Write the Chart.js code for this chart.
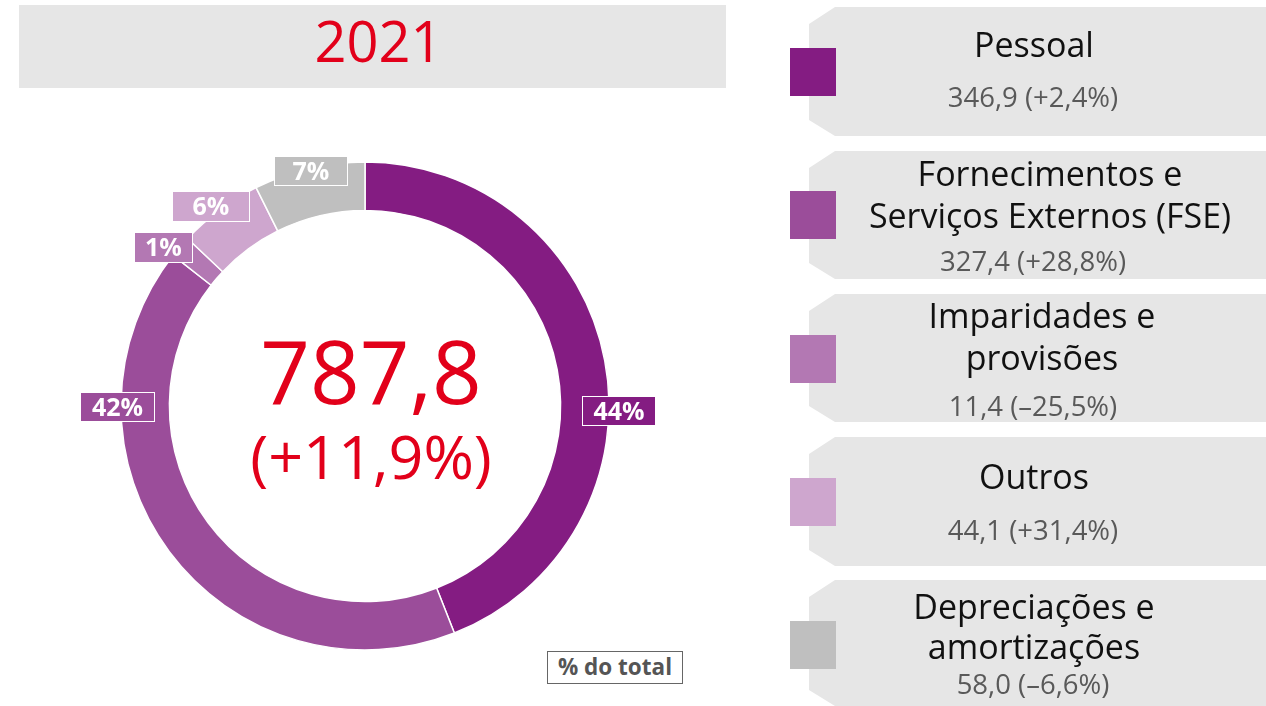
<!DOCTYPE html>
<html>
<head>
<meta charset="utf-8">
<script src="https://cdn.jsdelivr.net/npm/chart.js@4"></script>
<style>
  html, body { margin: 0; padding: 0; background: #fff; }
  body { width: 1266px; height: 706px; position: relative; overflow: hidden; font-family: "Open Sans", sans-serif; }
  #wrap { position: absolute; left: 0; top: 0; width: 1266px; height: 706px; }
  .abs { position: absolute; }
  #titleBox { left: 19px; top: 5px; width: 707px; height: 83px; background: #e6e6e6; }
  #titleTxt { left: 25px; top: 9px; width: 707px; text-align: center; color: #e2001a; font-size: 56px; line-height: 62px; }
  #centerVal { left: 171px; top: 320px; width: 400px; text-align: center; color: #e2001a; font-size: 87px; line-height: 100px; }
  #centerChg { left: 171px; top: 420px; width: 400px; text-align: center; color: #e2001a; font-size: 61px; line-height: 72px; }
  .panel { left: 809px; width: 457px; background: #e6e6e6; clip-path: polygon(26px 0, 100% 0, 100% 100%, 26px 100%, 0 calc(100% - 16px), 0 17px); }
  .sw { left: 790px; width: 46px; height: 48px; }
  .lbl { width: 440px; text-align: center; color: #111; font-size: 34px; line-height: 42px; }
  .val { left: 836px; width: 394px; text-align: center; color: #595959; font-size: 27.5px; line-height: 34px; }
  .plab { position: absolute; box-sizing: border-box; border: 1.5px solid #fff; color: #fff; font-weight: bold; font-size: 25px; text-align: center; line-height: 27px; }
  #pct { left: 547px; top: 651px; width: 136px; height: 33px; box-sizing: border-box; border: 1.5px solid #666; background: #fff; color: #555; font-weight: bold; font-size: 22.5px; line-height: 29px; text-align: center; }
</style>
</head>
<body>
<div id="wrap">
  <canvas id="c" width="1266" height="706" style="position:absolute;left:0;top:0;"></canvas>
</div>
<script>
// ---- data ----
const categories = ["Pessoal", "Fornecimentos e Serviços Externos (FSE)", "Imparidades e provisões", "Outros", "Depreciações e amortizações"];
const labelLines = [["Pessoal"], ["Fornecimentos e", "Serviços Externos (FSE)"], ["Imparidades e", "provisões"], ["Outros"], ["Depreciações e", "amortizações"]];
const values = [346.9, 327.4, 11.4, 44.1, 58.0];
const changes = ["+2,4%", "+28,8%", "–25,5%", "+31,4%", "–6,6%"];
const colors = ["#841c82", "#9b4d9a", "#b378b3", "#cea6ce", "#bfbfbf"];
const yearLabel = "2021";
const totalLabel = "787,8";
const totalChange = "(+11,9%)";

// ---- layout (positions only) ----
const panelTops = [7, 151, 294, 437, 580];
const panelHeights = [129, 128, 128, 129, 126];
const swatchTops = [48, 191, 335, 478, 621];
const lineTops = [[23], [152, 194], [294, 336], [455], [585, 625]];
const lineCenters = [1034, 1050, 1042, 1034, 1034];
const valTops = [80, 244, 389, 513, 667];
const labelBoxes = [
  {l: 582, t: 396, w: 74, h: 30},
  {l: 80, t: 392, w: 75, h: 30},
  {l: 134, t: 232, w: 59, h: 31},
  {l: 172, t: 191, w: 78, h: 31},
  {l: 274, t: 156, w: 74, h: 30}
];

const fmt = v => v.toFixed(1).replace('.', ',');
const total = values.reduce((a, b) => a + b, 0);
const wrap = document.getElementById('wrap');
function add(cls, id, text, style) {
  const d = document.createElement('div');
  d.className = cls;
  if (id) d.id = id;
  if (text != null) d.textContent = text;
  Object.assign(d.style, style || {});
  wrap.appendChild(d);
  return d;
}

add('abs', 'titleBox', null);
add('abs', 'titleTxt', yearLabel);

categories.forEach((c, i) => {
  add('abs panel', null, null, {top: panelTops[i] + 'px', height: panelHeights[i] + 'px'});
  add('abs sw', null, null, {top: swatchTops[i] + 'px', background: colors[i]});
  labelLines[i].forEach((ln, j) => add('abs lbl', null, ln, {top: lineTops[i][j] + 'px', left: (lineCenters[i] - 220) + 'px'}));
  add('abs val', null, fmt(values[i]) + ' (' + changes[i] + ')', {top: valTops[i] + 'px'});
});

new Chart(document.getElementById('c'), {
  type: 'doughnut',
  data: {
    labels: categories,
    datasets: [{
      data: values,
      backgroundColor: colors,
      borderColor: '#ffffff',
      borderWidth: 1.5,
      hoverOffset: 0
    }]
  },
  options: {
    responsive: false,
    animation: false,
    radius: 244,
    cutout: 195,
    rotation: 0,
    layout: { padding: { left: 121, right: 657, top: 162, bottom: 56 } },
    plugins: { legend: { display: false }, tooltip: { enabled: false } },
    events: []
  }
});

add('abs', 'centerVal', totalLabel);
add('abs', 'centerChg', totalChange);

values.forEach((v, i) => {
  const b = labelBoxes[i];
  add('plab', null, Math.round(v / total * 100) + '%', {
    left: b.l + 'px', top: b.t + 'px', width: b.w + 'px', height: b.h + 'px', background: colors[i]
  });
});

add('abs', 'pct', '% do total');
</script>
</body>
</html>
